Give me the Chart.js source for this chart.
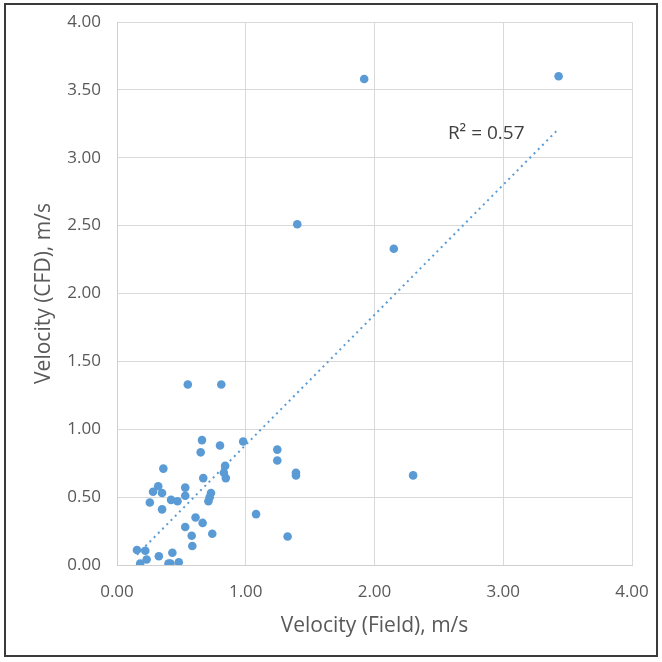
<!DOCTYPE html>
<html>
<head>
<meta charset="utf-8">
<script src="https://cdn.jsdelivr.net/npm/chart.js@4"></script>
<style>
  html, body { margin: 0; padding: 0; background: #fff; }
  #wrap { width: 662px; height: 662px; }
</style>
</head>
<body>
<div id="wrap"><canvas id="chart" width="662" height="662"></canvas></div>
<script>
const fieldVel = [1.92, 3.43, 1.40, 2.15, 2.30,
    0.55, 0.81, 0.66, 0.65, 0.80, 0.98, 1.245, 1.245, 1.39, 1.39,
    0.36, 0.84, 0.83, 0.845, 0.67, 0.53, 0.32, 0.28, 0.35, 0.53,
    0.73, 0.72, 0.71, 0.42, 0.47, 0.255, 0.35, 1.08, 0.61, 0.665,
    0.53, 0.74, 0.58, 1.325, 0.585, 0.155, 0.22, 0.43, 0.325, 0.23,
    0.18, 0.40, 0.415, 0.48];
const cfdVel = [3.58, 3.60, 2.51, 2.33, 0.66,
    1.33, 1.33, 0.92, 0.83, 0.88, 0.91, 0.85, 0.77, 0.68, 0.66,
    0.71, 0.73, 0.68, 0.64, 0.64, 0.57, 0.58, 0.54, 0.53, 0.51,
    0.53, 0.50, 0.47, 0.48, 0.47, 0.46, 0.41, 0.375, 0.35, 0.31,
    0.28, 0.23, 0.215, 0.21, 0.14, 0.11, 0.105, 0.09, 0.065, 0.04,
    0.01, 0.01, 0.01, 0.02];
const xTicks = [0, 1, 2, 3, 4];
const yTicks = [0, 0.5, 1, 1.5, 2, 2.5, 3, 3.5, 4];
const r2Label = 'R² = 0.57';

const points = fieldVel.map((x, i) => ({ x: x, y: cfdVel[i] }));

// linear least squares fit for the trendline
const n = fieldVel.length;
const mx = fieldVel.reduce((a, b) => a + b, 0) / n;
const my = cfdVel.reduce((a, b) => a + b, 0) / n;
let sxy = 0, sxx = 0;
fieldVel.forEach((x, i) => {
    sxy += (x - mx) * (cfdVel[i] - my);
    sxx += (x - mx) * (x - mx);
});
const slope = sxy / sxx;
const intercept = my - slope * mx;
const xMin = Math.min(...fieldVel);
const xMax = Math.max(...fieldVel);
const trend = [
    { x: xMin, y: intercept + slope * xMin },
    { x: xMax, y: intercept + slope * xMax },
];

const grey = '#595959';
const gridColor = '#d9d9d9';

// frame round the whole picture and the R² label
const extras = {
    id: 'extras',
    afterDraw(chart) {
        const ctx = chart.ctx;
        const { x, y } = chart.scales;
        ctx.save();
        ctx.fillStyle = '#404040';
        ctx.font = '19px "Open Sans", sans-serif';
        ctx.textBaseline = 'middle';
        ctx.fillText(r2Label, x.getPixelForValue(2.57), y.getPixelForValue(3.18));
        ctx.strokeStyle = '#3a3a3a';
        ctx.lineWidth = 2;
        ctx.strokeRect(5, 4, 652, 652);
        ctx.restore();
    }
};

const tickFont = { family: '"Open Sans", sans-serif', size: 17 };
const titleFont = { family: '"Open Sans", sans-serif', size: 21 };

new Chart(document.getElementById('chart'), {
    type: 'scatter',
    data: {
        datasets: [
            {
                data: points,
                backgroundColor: '#5b9bd5',
                borderWidth: 0,
                pointRadius: 4.3,
                order: 1,
            },
            {
                type: 'line',
                data: trend,
                borderColor: '#5b9bd5',
                borderWidth: 2,
                borderDash: [2, 4],
                pointRadius: 0,
                fill: false,
                order: 2,
            },
        ],
    },
    options: {
        responsive: false,
        animation: false,
        layout: { padding: { top: 22, right: 30, bottom: 23, left: 31 } },
        plugins: {
            legend: { display: false },
            tooltip: { enabled: false },
        },
        scales: {
            x: {
                type: 'linear',
                min: 0,
                max: 4,
                afterBuildTicks: (s) => { s.ticks = xTicks.map(v => ({ value: v })); },
                afterFit: (s) => {
                    s.height = 74;
                    // labels may spill past the plot edge, the fixed padding covers it
                    s.paddingLeft = 0;
                    s.paddingRight = 0;
                },
                grid: { color: gridColor, drawTicks: false },
                border: { color: '#cfcfcf' },
                ticks: { color: grey, font: tickFont, padding: 17, callback: (v) => v.toFixed(2) },
                title: { display: true, text: 'Velocity (Field), m/s', color: grey, font: titleFont, padding: 0 },
            },
            y: {
                type: 'linear',
                min: 0,
                max: 4,
                afterBuildTicks: (s) => { s.ticks = yTicks.map(v => ({ value: v })); },
                afterFit: (s) => {
                    s.width = 86;
                    s.paddingTop = 0;
                    s.paddingBottom = 0;
                },
                grid: { color: gridColor, drawTicks: false },
                border: { color: '#cfcfcf' },
                ticks: { color: grey, font: tickFont, padding: 16, callback: (v) => v.toFixed(2) },
                title: { display: true, text: 'Velocity (CFD), m/s', color: grey, font: titleFont, padding: 0 },
            },
        },
    },
    plugins: [extras],
});
</script>
</body>
</html>
